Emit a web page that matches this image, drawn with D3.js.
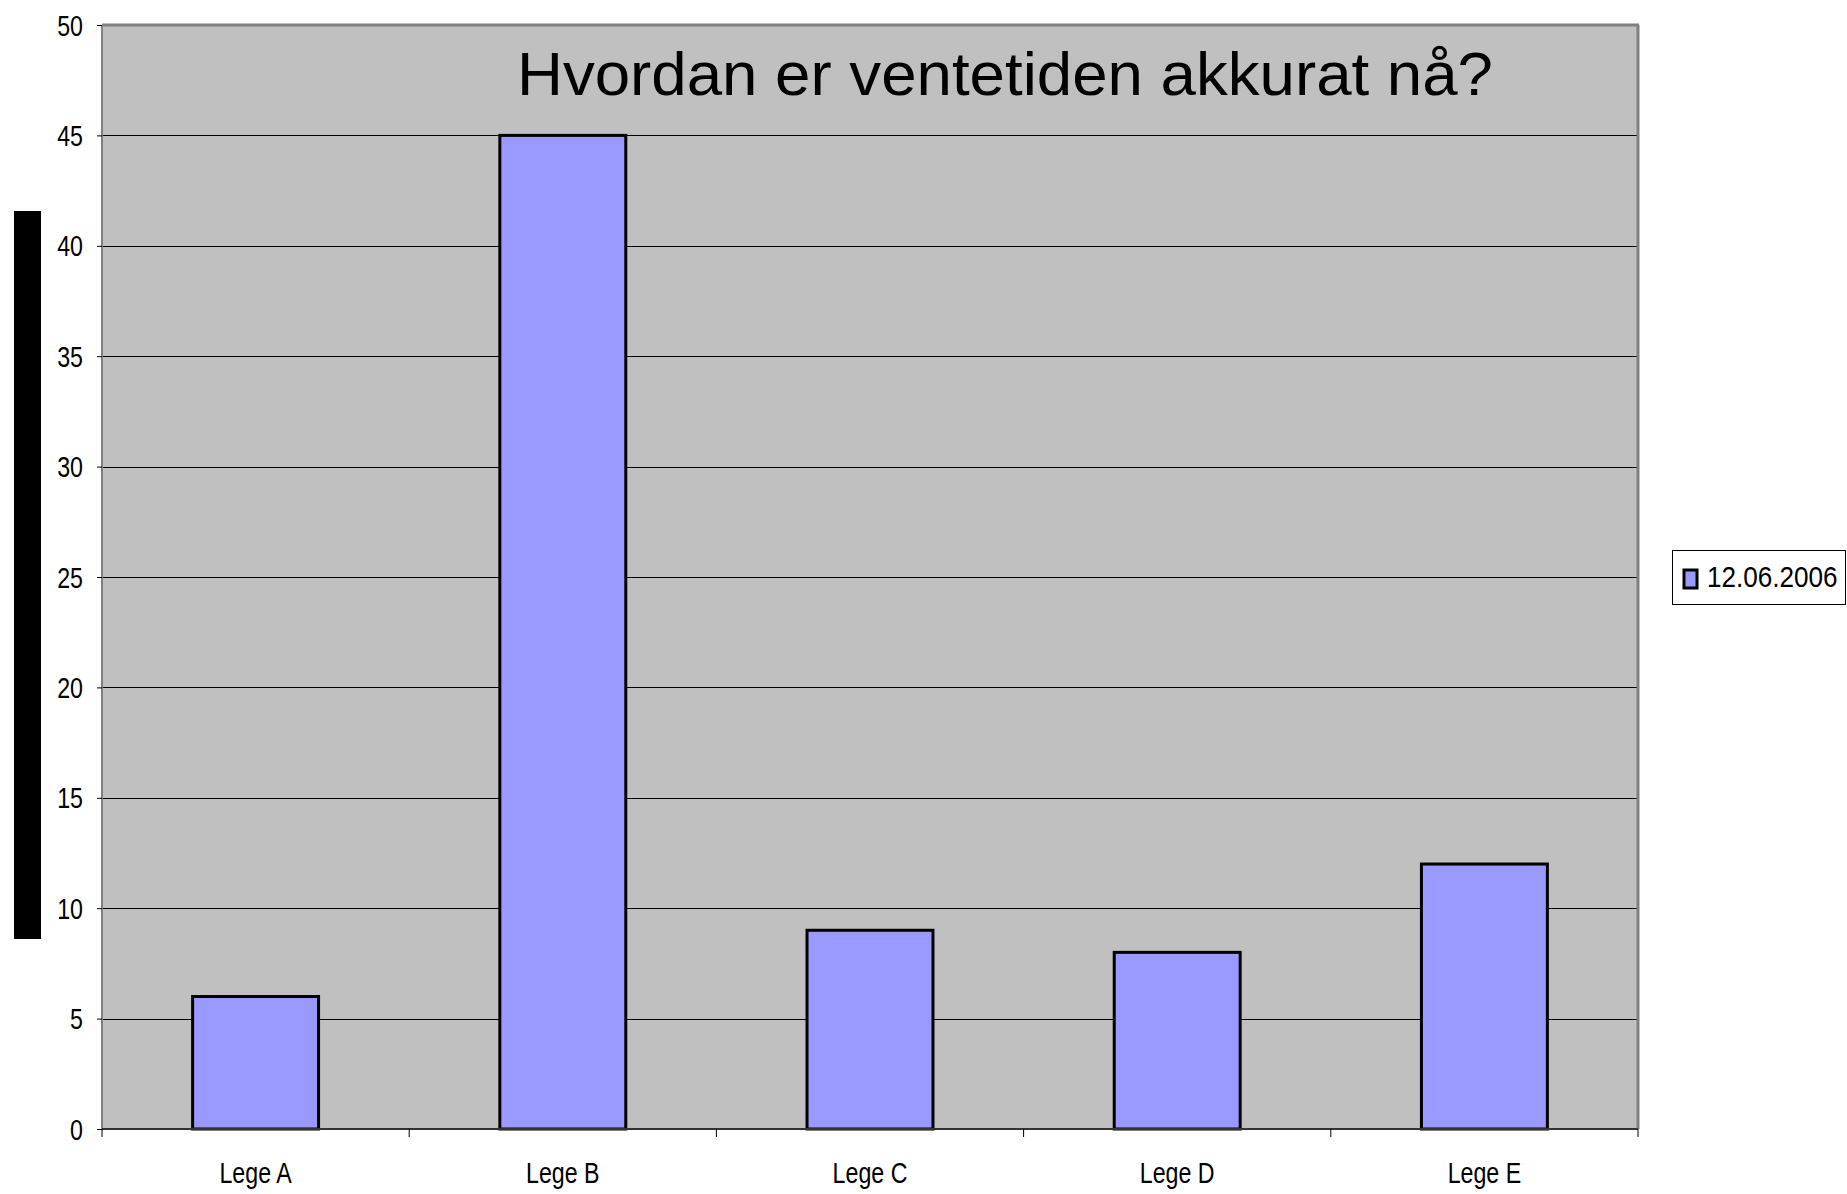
<!DOCTYPE html>
<html><head><meta charset="utf-8">
<script src="https://cdn.jsdelivr.net/npm/d3@7"></script>
<style>body{margin:0;background:#fff}svg{display:block}</style>
</head><body>
<script>
const categories = ["Lege A", "Lege B", "Lege C", "Lege D", "Lege E"];
const values = [6, 45, 9, 8, 12];
const yTicks = [0, 5, 10, 15, 20, 25, 30, 35, 40, 45, 50];
const seriesName = "12.06.2006";
const title = "Hvordan er ventetiden akkurat nå?";

const W = 1847, H = 1194;
const FONT = "'Liberation Sans', Arial, sans-serif";
const L = 102, R = 1638, T = 25, B = 1129;

const svg = d3.select("body").append("svg").attr("width", W).attr("height", H);

// condense text horizontally (narrow face look)
function narrow(sel, factor) {
  sel.each(function () {
    const n = this.getComputedTextLength();
    d3.select(this).attr("textLength", n * factor).attr("lengthAdjust", "spacingAndGlyphs");
  });
}

const x = d3.scaleBand().domain(categories).range([L, R]).paddingInner(0.59).paddingOuter(0.295);
const xb = d3.scaleBand().domain(categories).range([L, R]);
const y = d3.scaleLinear().domain([0, 50]).range([B, T]);

// left black bar
svg.append("rect").attr("x", 14).attr("y", 211).attr("width", 27).attr("height", 728).attr("fill", "#000");

// plot area
svg.append("rect").attr("x", L).attr("y", T).attr("width", R - L).attr("height", B - T).attr("fill", "#C0C0C0");

// gridlines
svg.append("g").selectAll("line").data(yTicks.filter(d => d > 0 && d < 50)).join("line")
  .attr("x1", L).attr("x2", R).attr("y1", d => Math.round(y(d)) + 0.5).attr("y2", d => Math.round(y(d)) + 0.5)
  .attr("stroke", "#000").attr("stroke-width", 1);

// border top/right gray
svg.append("line").attr("x1", L).attr("x2", R + 1).attr("y1", T).attr("y2", T).attr("stroke", "#808080").attr("stroke-width", 3);
svg.append("line").attr("x1", R).attr("x2", R).attr("y1", T).attr("y2", B).attr("stroke", "#808080").attr("stroke-width", 3);

// bars
svg.append("g").selectAll("rect").data(values).join("rect")
  .attr("x", (d, i) => x(categories[i])).attr("width", x.bandwidth())
  .attr("y", d => y(d)).attr("height", d => B - y(d))
  .attr("fill", "#9999FF").attr("stroke", "#000").attr("stroke-width", 3);

// y axis
const yAxis = d3.axisLeft(y).tickValues(yTicks).tickSize(5).tickPadding(14);
const gy = svg.append("g").attr("transform", `translate(${L},0)`).call(yAxis);
gy.select(".domain").attr("stroke", "#808080").attr("stroke-width", 2).attr("d", `M0,${T}V${B}`);
gy.selectAll(".tick line").attr("stroke", "#000");
gy.selectAll("text").attr("font-family", FONT).attr("font-size", 29).attr("fill", "#000").attr("dy", "0.35em").call(narrow, 0.8);

// x axis
const gx = svg.append("g").attr("transform", `translate(0,${B})`);
gx.append("line").attr("x1", L).attr("x2", R).attr("y1", 0).attr("y2", 0).attr("stroke", "#333").attr("stroke-width", 2);
gx.selectAll("line.tk").data(categories.concat(["end"])).join("line").attr("class", "tk")
  .attr("x1", (d, i) => i < categories.length ? xb(d) : R).attr("x2", (d, i) => i < categories.length ? xb(d) : R)
  .attr("y1", 0).attr("y2", 8).attr("stroke", "#000");
gx.selectAll("text").data(categories).join("text")
  .attr("x", d => xb(d) + xb.bandwidth() / 2).attr("y", 54)
  .attr("text-anchor", "middle").attr("font-family", FONT).attr("font-size", 29).text(d => d).call(narrow, 0.8);

// title
const tt = svg.append("text").attr("x", 1005).attr("y", 95).attr("text-anchor", "middle")
  .attr("font-family", FONT).attr("font-size", 61).text(title);
tt.attr("textLength", 976).attr("lengthAdjust", "spacingAndGlyphs");

// legend
const lg = svg.append("g");
lg.append("rect").attr("x", 1672.5).attr("y", 550.5).attr("width", 173).attr("height", 54).attr("fill", "#fff").attr("stroke", "#000").attr("stroke-width", 1);
lg.append("rect").attr("x", 1684).attr("y", 570).attr("width", 13).attr("height", 18).attr("fill", "#9999FF").attr("stroke", "#000").attr("stroke-width", 3);
lg.append("text").attr("transform", "translate(1707,587) scale(0.87,1)").attr("x", 0).attr("y", 0)
  .attr("font-family", FONT).attr("font-size", 30).text(seriesName);
</script>
</body></html>
